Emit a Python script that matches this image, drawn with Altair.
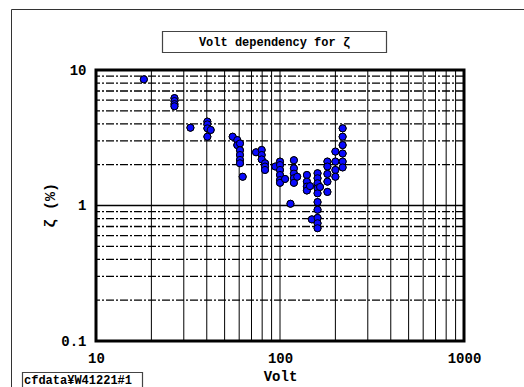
import altair as alt
import pandas as pd

# ---- data ----
volt = [18.2,
        26.7, 26.7, 26.7, 26.7,
        32.6,
        40.3, 40.3, 40.3, 40.3, 42.0,
        55.3,
        58.6, 58.6,
        60.6, 60.6, 60.6, 60.6, 60.6,
        62.7,
        74.1,
        79.5, 79.5, 79.5, 82.9, 82.9, 82.9,
        94.3,
        100, 100, 100, 100, 100, 100,
        106.5,
        114,
        119, 119, 119, 119, 119,
        124,
        140, 140, 140, 140,
        145.5,
        149,
        160, 160, 160, 160, 160, 160, 160, 160, 160, 160,
        165,
        181, 181, 181, 181, 181,
        200, 200, 200, 200,
        219, 219, 219, 219, 219, 219]
zeta = [8.53,
        6.2, 5.9, 5.6, 5.4,
        3.75,
        4.16, 3.97, 3.71, 3.22, 3.61,
        3.22,
        3.04, 2.79,
        2.87, 2.56, 2.36, 2.17, 2.05,
        1.63,
        2.47,
        2.57, 2.36, 2.19, 2.05, 1.94, 1.83,
        1.94,
        2.11, 1.99, 1.83, 1.68, 1.54, 1.47,
        1.57,
        1.03,
        2.16, 1.88, 1.72, 1.59, 1.47,
        1.63,
        1.68, 1.50, 1.38, 1.29,
        1.39,
        0.79,
        1.73, 1.59, 1.46, 1.34, 1.23, 1.06, 0.93, 0.81, 0.74, 0.68,
        1.37,
        2.11, 1.94, 1.71, 1.50, 1.26,
        2.50, 2.11, 1.83, 1.63,
        3.71, 3.22, 2.79, 2.42, 2.11, 1.91]

x_grid = [20, 30, 40, 50, 60, 70, 80, 90, 100, 200, 300, 400, 500, 600, 700, 800, 900]
y_grid_dash = [0.2, 0.3, 0.4, 0.5, 0.6, 0.7, 0.8, 0.9, 2, 3, 4, 5, 6, 7, 8, 9]
y_grid_solid = [1]
x_ticks = [10, 100, 1000]
y_ticks = [0.1, 1, 10]

title_text = "Volt dependency for ζ"
y_title = "ζ (%)"
footer_text = "cfdata¥W41221#1"
FONT = "Liberation Mono"

W, H = 368, 271

df = pd.DataFrame({"Volt": volt, "zeta": zeta})
xscale = alt.Scale(type="log", domain=[10, 1000], nice=False)
yscale = alt.Scale(type="log", domain=[0.1, 10], nice=False)

xaxis = alt.Axis(title="Volt", values=x_ticks, grid=False, ticks=False, domain=False,
                 labelFont=FONT, labelFontSize=14, labelFontWeight="bold",
                 labelColor="#000", labelPadding=10, labelFlush=False, format="~g",
                 titleFont=FONT, titleFontSize=14, titleFontWeight="bold",
                 titleColor="#000", titlePadding=4)
yaxis = alt.Axis(title=None, values=y_ticks, grid=False, ticks=False, domain=False,
                 labelFont=FONT, labelFontSize=14, labelFontWeight="bold",
                 labelColor="#000", labelPadding=10, labelFlush=False, format="~g")

points = alt.Chart(df).mark_point(
    filled=True, fill="#0a0aff", stroke="#000000", strokeWidth=1, size=50, opacity=1, shape="circle"
).encode(
    x=alt.X("Volt:Q", scale=xscale, axis=xaxis),
    y=alt.Y("zeta:Q", scale=yscale, axis=yaxis),
)

vgrid = alt.Chart(pd.DataFrame({"Volt": x_grid})).mark_rule(
    color="#000000", strokeWidth=1
).encode(x=alt.X("Volt:Q", scale=xscale, axis=xaxis))

hgrid_dash = alt.Chart(pd.DataFrame({"zeta": y_grid_dash})).mark_rule(
    color="#000000", strokeWidth=1.3, strokeDash=[8, 2, 2, 2]
).encode(y=alt.Y("zeta:Q", scale=yscale, axis=yaxis))

hgrid_solid = alt.Chart(pd.DataFrame({"zeta": y_grid_solid})).mark_rule(
    color="#000000", strokeWidth=1.5
).encode(y=alt.Y("zeta:Q", scale=yscale, axis=yaxis))

frame = alt.Chart(pd.DataFrame({"a": [0]})).mark_rect(
    fill=None, stroke="#000000", strokeWidth=3
).encode(x=alt.value(0), x2=alt.value(W), y=alt.value(0), y2=alt.value(H))

outer = alt.Chart(pd.DataFrame({"a": [0]})).mark_rect(
    fill=None, stroke="#333333", strokeWidth=1, clip=False
).encode(x=alt.value(-84.5), x2=alt.value(W + 80), y=alt.value(-60.5), y2=alt.value(H + 60))

tbox = alt.Chart(pd.DataFrame({"a": [0]})).mark_rect(
    fill="white", stroke="#444444", strokeWidth=1.2, clip=False
).encode(x=alt.value(66.5), x2=alt.value(290.5), y=alt.value(-38.5), y2=alt.value(-17.5))

ttext = alt.Chart(pd.DataFrame({"t": [title_text]})).mark_text(
    font=FONT, fontSize=12, fontWeight="bold", color="#000", align="center", baseline="middle"
).encode(x=alt.value(178.5), y=alt.value(-28), text="t:N")

ytext = alt.Chart(pd.DataFrame({"t": [y_title]})).mark_text(
    font=FONT, fontSize=15, fontWeight="bold", color="#000", align="center", baseline="middle",
    angle=270
).encode(x=alt.value(-46), y=alt.value(H / 2), text="t:N")

fbox = alt.Chart(pd.DataFrame({"a": [0]})).mark_rect(
    fill="white", stroke="#444444", strokeWidth=1.2, clip=False
).encode(x=alt.value(-73.5), x2=alt.value(46.5), y=alt.value(302.5), y2=alt.value(330))

ftext = alt.Chart(pd.DataFrame({"t": [footer_text]})).mark_text(
    font=FONT, fontSize=12, fontWeight="bold", color="#000", align="left", baseline="alphabetic"
).encode(x=alt.value(-72), y=alt.value(314), text="t:N")

chart = alt.layer(
    points, outer, tbox, ttext, ytext, fbox, vgrid, hgrid_dash, hgrid_solid, frame, points, ftext
).properties(
    width=W, height=H,
    padding={"left": 96, "top": 70, "right": 60, "bottom": 46},
    autosize=alt.AutoSizeParams(type="none"),
    background="white",
).configure_view(stroke=None)

chart.save("out.html", embed_options={"renderer": "svg", "actions": False})
